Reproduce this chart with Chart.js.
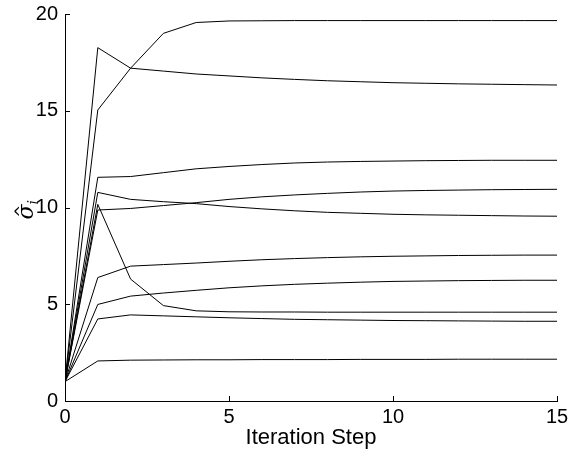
<!DOCTYPE html>
<html><head><meta charset="utf-8">
<script src="https://cdn.jsdelivr.net/npm/chart.js@4/dist/chart.umd.min.js"></script>
<style>html,body{margin:0;padding:0;background:#fff}#c{display:block}</style>
</head><body>
<canvas id="c" width="570" height="454"></canvas>
<script>
const steps = [0,1,2,3,4,5,6,7,8,9,10,11,12,13,14,15];
const s1 = [1,15.04,17.2,19.0,19.56,19.64,19.65,19.66,19.66,19.66,19.66,19.66,19.66,19.66,19.66,19.66];
const s2 = [1,18.26,17.2,17.05,16.9,16.8,16.7,16.62,16.55,16.5,16.45,16.42,16.39,16.37,16.35,16.33];
const s3 = [1,11.56,11.6,11.8,12.0,12.12,12.22,12.3,12.35,12.38,12.4,12.42,12.43,12.44,12.44,12.44];
const s4 = [1,10.78,10.42,10.3,10.2,10.05,9.93,9.83,9.75,9.7,9.65,9.62,9.6,9.58,9.56,9.55];
const s5 = [1,9.87,9.95,10.1,10.25,10.42,10.55,10.65,10.73,10.8,10.85,10.88,10.9,10.92,10.93,10.94];
const s6 = [1,10.16,6.3,4.93,4.66,4.61,4.6,4.6,4.59,4.59,4.59,4.59,4.59,4.59,4.59,4.59];
const s7 = [1,6.38,6.97,7.05,7.13,7.22,7.3,7.36,7.41,7.45,7.48,7.5,7.52,7.53,7.54,7.54];
const s8 = [1,4.99,5.42,5.58,5.72,5.85,5.95,6.03,6.09,6.14,6.18,6.2,6.22,6.23,6.24,6.24];
const s9 = [1,4.24,4.45,4.4,4.35,4.3,4.26,4.22,4.2,4.18,4.16,4.15,4.14,4.13,4.12,4.12];
const s10 = [1,2.07,2.11,2.12,2.13,2.13,2.14,2.14,2.14,2.15,2.15,2.15,2.16,2.16,2.16,2.16];
const xTicks = [0,5,10,15];
const yTicks = [0,5,10,15,20];

const series = [s1,s2,s3,s4,s5,s6,s7,s8,s9,s10];
const datasets = series.map(s => ({
  data: s.map((v,i) => ({x: steps[i], y: v})),
  borderColor: '#000', borderWidth: 1, pointRadius: 0, tension: 0, fill: false
}));

const inwardTicks = {
  id: 'inwardTicks',
  afterDatasetsDraw(chart) {
    const ctx = chart.ctx, xs = chart.scales.x, ys = chart.scales.y;
    const a = chart.chartArea;
    ctx.save();
    ctx.strokeStyle = '#000'; ctx.lineWidth = 1;
    ctx.beginPath();
    xTicks.forEach(t => { const p = Math.round(xs.getPixelForValue(t)) + 0.5; ctx.moveTo(p, a.bottom); ctx.lineTo(p, a.bottom - 5); });
    yTicks.forEach(t => { const p = Math.round(ys.getPixelForValue(t)) + 0.5; ctx.moveTo(a.left, p); ctx.lineTo(a.left + 5, p); });
    ctx.stroke();
    // y-axis label: sigma hat sub i
    ctx.translate(33, 209);
    ctx.rotate(-Math.PI/2);
    ctx.fillStyle = '#000';
    ctx.textBaseline = 'alphabetic';
    ctx.font = 'italic 22px "DejaVu Serif"';
    ctx.textAlign = 'left';
    const w = ctx.measureText('σ').width;
    ctx.fillText('σ', -w/2 - 3, 0);
    ctx.font = '15px "DejaVu Sans"';
    ctx.fillText('^', -w/2 - 1, -7);
    ctx.font = 'italic 14px "DejaVu Serif"';
    ctx.fillText('i', w/2 - 3, 5);
    ctx.restore();
  }
};

new Chart(document.getElementById('c'), {
  type: 'line',
  data: { datasets },
  plugins: [inwardTicks],
  options: {
    responsive: false, animation: false,
    layout: { padding: { top: 14, right: 13, left: 0, bottom: 0 } },
    plugins: { legend: { display: false }, tooltip: { enabled: false } },
    scales: {
      x: {
        type: 'linear', min: 0, max: 15,
        afterBuildTicks: s => { s.ticks = xTicks.map(v => ({value: v})); },
        afterFit: s => { s.height = 53; s.paddingLeft = 0; s.paddingRight = 0; },
        grid: { display: false, drawTicks: false },
        border: { display: true, color: '#000', width: 1 },
        ticks: { color: '#000', font: { family: 'Liberation Sans', size: 20 }, padding: 4, maxRotation: 0 },
        title: { display: true, text: 'Iteration Step', color: '#000', font: { family: 'Liberation Sans', size: 22 }, padding: { top: 0, bottom: 3 } }
      },
      y: {
        min: 0, max: 20,
        afterBuildTicks: s => { s.ticks = yTicks.map(v => ({value: v})); },
        afterFit: s => { s.width = 65; s.paddingTop = 0; s.paddingBottom = 0; },
        grid: { display: false, drawTicks: false },
        border: { display: true, color: '#000', width: 1 },
        ticks: { color: '#000', font: { family: 'Liberation Sans', size: 20 }, padding: 7 }
      }
    }
  }
});
</script>
</body></html>
